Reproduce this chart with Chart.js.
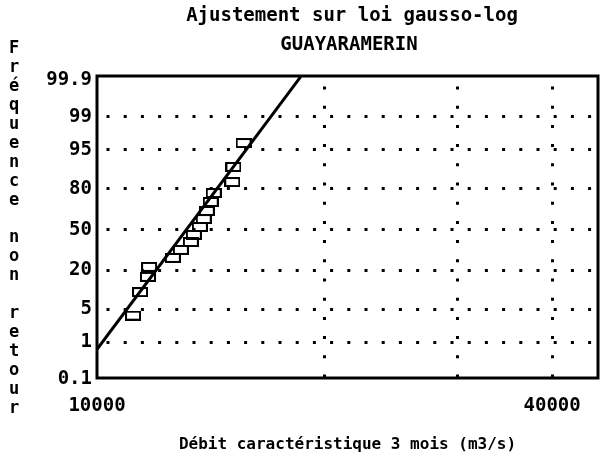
<!DOCTYPE html>
<html><head><meta charset="utf-8">
<script src="https://cdn.jsdelivr.net/npm/chart.js@4"></script>
<style>html,body{margin:0;padding:0;background:#fff}#wrap{width:608px;height:461px}</style>
</head><body><div id="wrap"><canvas id="c" width="608" height="461"></canvas></div>
<script>
// ---- data ----
const titleLines = ['Ajustement sur loi gausso-log', 'GUAYARAMERIN'];
const xTitle = 'Débit caractéristique 3 mois (m3/s)';
const yTitle = 'Fréquence non retour';
const obsDebit = [11160, 11400, 11680, 11720, 12600, 12910, 13310, 13430, 13680, 13840, 13970, 14140, 14270, 15100, 15150, 15630];
const obsFreq  = [3.8, 9.9, 16.5, 22.1, 28.0, 33.8, 40.0, 45.7, 52.2, 58.7, 65.0, 71.6, 77.5, 83.7, 90.2, 96.3];
const fitDebit = [10000, 18600];
const fitFreq  = [0.68, 99.92];
const xTickValues = [10000, 20000, 30000, 40000];
const xTickLabels = ['10000', '', '', '40000'];
const yTickFreq   = [0.1, 1, 5, 20, 50, 80, 95, 99, 99.9];
const yTickLabels = ['0.1', '1', '5', '20', '50', '80', '95', '99', '99.9'];

// inverse normal CDF (gaussian probability scale)
function probit(p) {
  const a=[-3.969683028665376e+01,2.209460984245205e+02,-2.759285104469687e+02,1.383577518672690e+02,-3.066479806614716e+01,2.506628277459239e+00];
  const b=[-5.447609879822406e+01,1.615858368580409e+02,-1.556989798598866e+02,6.680131188771972e+01,-1.328068155288572e+01];
  const c=[-7.784894002430293e-03,-3.223964580411365e-01,-2.400758277161838e+00,-2.549732539343734e+00,4.374664141464968e+00,2.938163982698783e+00];
  const d=[7.784695709041462e-03,3.224671290700398e-01,2.445134137142996e+00,3.754408661907416e+00];
  const pl=0.02425, ph=1-pl; let q, r;
  if (p < pl) { q=Math.sqrt(-2*Math.log(p)); return (((((c[0]*q+c[1])*q+c[2])*q+c[3])*q+c[4])*q+c[5])/((((d[0]*q+d[1])*q+d[2])*q+d[3])*q+1); }
  if (p <= ph) { q=p-0.5; r=q*q; return (((((a[0]*r+a[1])*r+a[2])*r+a[3])*r+a[4])*r+a[5])*q/(((((b[0]*r+b[1])*r+b[2])*r+b[3])*r+b[4])*r+1); }
  q=Math.sqrt(-2*Math.log(1-p)); return -(((((c[0]*q+c[1])*q+c[2])*q+c[3])*q+c[4])*q+c[5])/((((d[0]*q+d[1])*q+d[2])*q+d[3])*q+1);
}
const zf = f => probit(f / 100);

// open rectangle marker
const rectImg = document.createElement('canvas');
rectImg.width = 16; rectImg.height = 10;
(function(){ const g = rectImg.getContext('2d'); g.strokeStyle = '#000'; g.lineWidth = 2; g.strokeRect(1, 1, 14, 8); })();

const FONT = 'DejaVu Sans Mono';
const textPlugin = {
  id: 'texts',
  afterDraw(chart) {
    const ctx = chart.ctx, a = chart.chartArea;
    ctx.save();
    ctx.strokeStyle = '#000'; ctx.lineWidth = 3;
    ctx.strokeRect(a.left, a.top, a.right - a.left, a.bottom - a.top);
    ctx.fillStyle = '#000';
    ctx.textAlign = 'center'; ctx.textBaseline = 'middle';
    ctx.font = 'bold 19px "' + FONT + '"';
    ctx.fillText(titleLines[0], 352, 16);
    ctx.fillText(titleLines[1], 349, 45);
    ctx.font = 'bold 17px "' + FONT + '"';
    const letters = Array.from(yTitle);
    letters.forEach((ch, i) => { if (ch !== ' ') ctx.fillText(ch, 14, 49 + i * 18.9); });
    ctx.restore();
  }
};

new Chart(document.getElementById('c'), {
  type: 'scatter',
  data: { datasets: [
    { type: 'line', data: fitDebit.map((x, i) => ({ x, y: zf(fitFreq[i]) })), borderColor: '#000', borderWidth: 3, pointRadius: 0, fill: false, order: 2 },
    { data: obsDebit.map((x, i) => ({ x, y: zf(obsFreq[i]) })), pointStyle: rectImg, pointRadius: 7, borderColor: '#000', backgroundColor: 'rgba(0,0,0,0)', order: 1 }
  ]},
  options: {
    responsive: false, animation: false, devicePixelRatio: 1,
    layout: { padding: { top: 76, right: 10, left: 0, bottom: 0 } },
    plugins: { legend: { display: false }, tooltip: { enabled: false }, title: { display: false } },
    scales: {
      x: {
        type: 'logarithmic', min: 10000, max: 46000,
        afterBuildTicks: s => { s.ticks = xTickValues.map(v => ({ value: v })); },
        afterFit: s => { s.height = 83; },
        ticks: { callback: (v, i) => xTickLabels[i], color: '#000', font: { family: FONT, size: 19, weight: 'bold' }, padding: 17, maxRotation: 0, autoSkip: false },
        grid: { drawTicks: false, lineWidth: 3, color: c => (c.tick && c.tick.value === 10000) ? 'rgba(0,0,0,0)' : '#000' },
        border: { display: false, dash: [3, 16.2], dashOffset: 8.7 },
        title: { display: true, text: xTitle, color: '#000', font: { family: FONT, size: 16, weight: 'bold' }, padding: { top: 0, bottom: 7 } }
      },
      y: {
        type: 'linear', min: -3.06, max: 3.17,
        afterBuildTicks: s => { s.ticks = yTickFreq.map(f => ({ value: zf(f) })); },
        afterFit: s => { s.width = 97; },
        ticks: { callback: (v, i) => yTickLabels[i], color: '#000', font: { family: FONT, size: 19, weight: 'bold' }, padding: 5, autoSkip: false },
        grid: { drawTicks: false, lineWidth: 3, color: c => (c.index === 0 || c.index === yTickFreq.length - 1) ? 'rgba(0,0,0,0)' : '#000' },
        border: { display: false, dash: [3, 14.2], dashOffset: 7.7 }
      }
    }
  },
  plugins: [textPlugin]
});
</script>
</body></html>
